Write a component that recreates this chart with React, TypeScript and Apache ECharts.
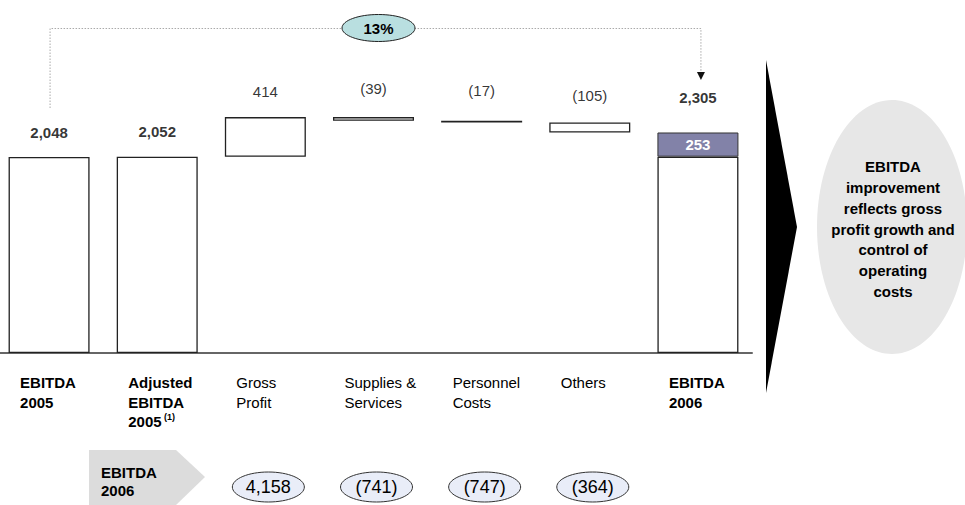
import React, { useEffect, useRef } from 'react';
import * as echarts from 'echarts';

// ---------- data ----------
const categoryLines: string[][] = [
  ['EBITDA', '2005'],
  ['Adjusted', 'EBITDA', '2005'],
  ['Gross', 'Profit'],
  ['Supplies &', 'Services'],
  ['Personnel', 'Costs'],
  ['Others'],
  ['EBITDA', '2006'],
];
const categories = categoryLines.map((l) => l.join(' '));
const isTotal = [true, true, false, false, false, false, true];
const values = [2048, 2052, 414, -39, -17, -105, 2305];
const footnoteCategory = 1;
const footnoteText = '(1)';
const growthLabel = '13%';
const bottomTitle = ['EBITDA', '2006'];
const bottomValues: (number | null)[] = [null, null, 4158, -741, -747, -364, null];
const insightLines = [
  'EBITDA',
  'improvement',
  'reflects gross',
  'profit growth and',
  'control of',
  'operating',
  'costs',
];

// ---------- styles ----------
const FONT = 'Arial, "Liberation Sans", Helvetica, sans-serif';
const labelLift = [17, 17, 18, 21, 22, 19, 27];
const OX = 5; // the chart div starts 5px left of the page

const fmt = (v: number) =>
  v < 0 ? `(${Math.abs(v).toLocaleString('en-US')})` : v.toLocaleString('en-US');

// build waterfall stacks
const baseSeries: (number | string)[] = [];
const whiteSeries: (number | string)[] = [];
const purpleSeries: (number | string)[] = [];
const tops: number[] = [];
{
  let running = 0;
  values.forEach((v, i) => {
    if (isTotal[i]) {
      if (i === values.length - 1) {
        const prevTotal = values[footnoteCategory];
        baseSeries.push(0);
        whiteSeries.push(prevTotal);
        purpleSeries.push(v - prevTotal);
      } else {
        baseSeries.push(0);
        whiteSeries.push(v);
        purpleSeries.push('-');
      }
      running = v;
      tops.push(v);
    } else {
      const next = running + v;
      baseSeries.push(Math.min(running, next));
      whiteSeries.push(Math.abs(v));
      purpleSeries.push('-');
      tops.push(Math.max(running, next));
      running = next;
    }
  });
}

export default function App() {
  const ref = useRef<HTMLDivElement>(null);
  useEffect(() => {
    if (!ref.current) return;
    const chart = echarts.init(ref.current, undefined, { renderer: 'svg' });
    chart.setOption({
      animation: false,
      backgroundColor: '#ffffff',
      grid: { left: 0, right: 213, top: 66, bottom: 152 },
      xAxis: {
        type: 'category',
        data: categories,
        axisLine: { show: true, lineStyle: { color: '#666', width: 2 } },
        axisTick: { show: false },
        axisLabel: { show: false },
      },
      yAxis: {
        type: 'value',
        min: 0,
        max: 3000,
        show: false,
        splitLine: { show: false },
      },
      series: [
        {
          type: 'bar',
          stack: 'w',
          data: baseSeries,
          barWidth: 81,
          itemStyle: { color: 'transparent', borderWidth: 0 },
          silent: true,
        },
        {
          type: 'bar',
          stack: 'w',
          data: whiteSeries,
          barWidth: 81,
          itemStyle: { color: '#ffffff', borderColor: '#222', borderWidth: 1.3 },
        },
        {
          type: 'bar',
          stack: 'w',
          data: purpleSeries,
          barWidth: 81,
          itemStyle: { color: '#8282a8', borderColor: '#333', borderWidth: 1 },
          label: {
            show: true,
            position: 'inside',
            color: '#ffffff',
            fontWeight: 'bold',
            fontSize: 15,
            fontFamily: FONT,
          },
        },
        {
          type: 'scatter',
          symbolSize: 1,
          itemStyle: { color: 'rgba(0,0,0,0)' },
          data: tops.map((t, i) => ({
            value: [i, t],
            label: {
              show: true,
              position: 'top',
              distance: labelLift[i],
              color: '#000',
              fontSize: 15,
              fontFamily: FONT,
              fontWeight: isTotal[i] ? 'bold' : 'normal',
            },
          })),
          label: {
            show: true,
            color: '#000',
            fontSize: 15,
            fontFamily: FONT,
            formatter: (p: any) => fmt(values[p.dataIndex]),
          },
        },
      ],
    });

    const xs = categories.map((c) => chart.convertToPixel({ xAxisIndex: 0 }, c) as number);
    const graphics: any[] = [];

    // category labels
    categoryLines.forEach((lines, i) => {
      const style = isTotal[i] ? 'b' : 'n';
      let text = lines.map((l) => `{${style}|${l}}`).join('\n');
      if (i === footnoteCategory) text += `{s| ${footnoteText}}`;
      graphics.push({
        type: 'text',
        x: xs[i] - 29,
        y: 373,
        style: {
          text,
          fill: '#000',
          rich: {
            b: { fontSize: 15, fontWeight: 'bold', fontFamily: FONT, lineHeight: 19.5, fill: '#000' },
            n: { fontSize: 15, fontFamily: FONT, lineHeight: 19.5, fill: '#000' },
            s: { fontSize: 9, fontWeight: 'bold', fontFamily: FONT, lineHeight: 19.5, verticalAlign: 'top', padding: [0, 0, 8, 0], fill: '#000' },
          },
        },
      });
    });

    // dotted growth connector
    const xl = xs[0] + 1;
    const xr = xs[xs.length - 1] + 3;
    graphics.push({
      type: 'polyline',
      shape: { points: [[xl, 108], [xl, 28.5], [xr, 28.5], [xr, 73]] },
      style: { stroke: '#aaa', lineWidth: 1, lineDash: [1.5, 1.5], fill: null },
    });
    graphics.push({
      type: 'polygon',
      shape: { points: [[xr - 4, 72], [xr + 4, 72], [xr, 80]] },
      style: { fill: '#111' },
    });
    graphics.push({
      type: 'ellipse',
      shape: { cx: 378.5 + OX, cy: 28, rx: 36.5, ry: 13.5 },
      style: { fill: '#b9dfe0', stroke: '#222', lineWidth: 1 },
    });
    graphics.push({
      type: 'text',
      x: 378.5 + OX,
      y: 28,
      style: {
        text: growthLabel,
        fill: '#000',
        font: `bold 15px ${FONT}`,
        align: 'center',
        verticalAlign: 'middle',
        textAlign: 'center',
        textVerticalAlign: 'middle',
      },
    });

    // big black arrow
    graphics.push({
      type: 'polygon',
      shape: { points: [[766 + OX, 60], [797 + OX, 227], [766 + OX, 393]] },
      style: { fill: '#000' },
    });

    // insight bubble
    graphics.push({
      type: 'ellipse',
      shape: { cx: 892 + OX, cy: 227, rx: 75, ry: 127 },
      style: { fill: '#e7e7e7' },
    });
    graphics.push({
      type: 'text',
      x: 893 + OX,
      y: 229,
      style: {
        text: insightLines.join('\n'),
        fill: '#000',
        font: `bold 15px ${FONT}`,
        lineHeight: 20.7,
        align: 'center',
        verticalAlign: 'middle',
        textAlign: 'center',
        textVerticalAlign: 'middle',
      },
    });

    // bottom row title box
    graphics.push({
      type: 'polygon',
      shape: {
        points: [
          [89 + OX, 450],
          [176 + OX, 450],
          [205 + OX, 477],
          [176 + OX, 505],
          [89 + OX, 505],
        ],
      },
      style: { fill: '#dcdcdc' },
    });
    graphics.push({
      type: 'text',
      x: 101 + OX,
      y: 481,
      style: {
        text: bottomTitle.join('\n'),
        fill: '#000',
        font: `bold 15px ${FONT}`,
        lineHeight: 18,
        verticalAlign: 'middle',
        textVerticalAlign: 'middle',
      },
    });

    // bottom ellipses
    bottomValues.forEach((v, i) => {
      if (v === null) return;
      graphics.push({
        type: 'ellipse',
        shape: { cx: xs[i] + 3, cy: 487, rx: 36, ry: 15 },
        style: { fill: '#e9edf8', stroke: '#333', lineWidth: 1 },
      });
      graphics.push({
        type: 'text',
        x: xs[i] + 3,
        y: 487,
        style: {
          text: fmt(v),
          fill: '#000',
          font: `18px ${FONT}`,
          align: 'center',
          verticalAlign: 'middle',
          textAlign: 'center',
          textVerticalAlign: 'middle',
        },
      });
    });

    chart.setOption({ graphic: { elements: graphics } });

    return () => chart.dispose();
  }, []);

  return (
    <div
      ref={ref}
      style={{ position: 'absolute', left: -OX, top: 0, width: 965 + OX, height: 505 }}
    />
  );
}
